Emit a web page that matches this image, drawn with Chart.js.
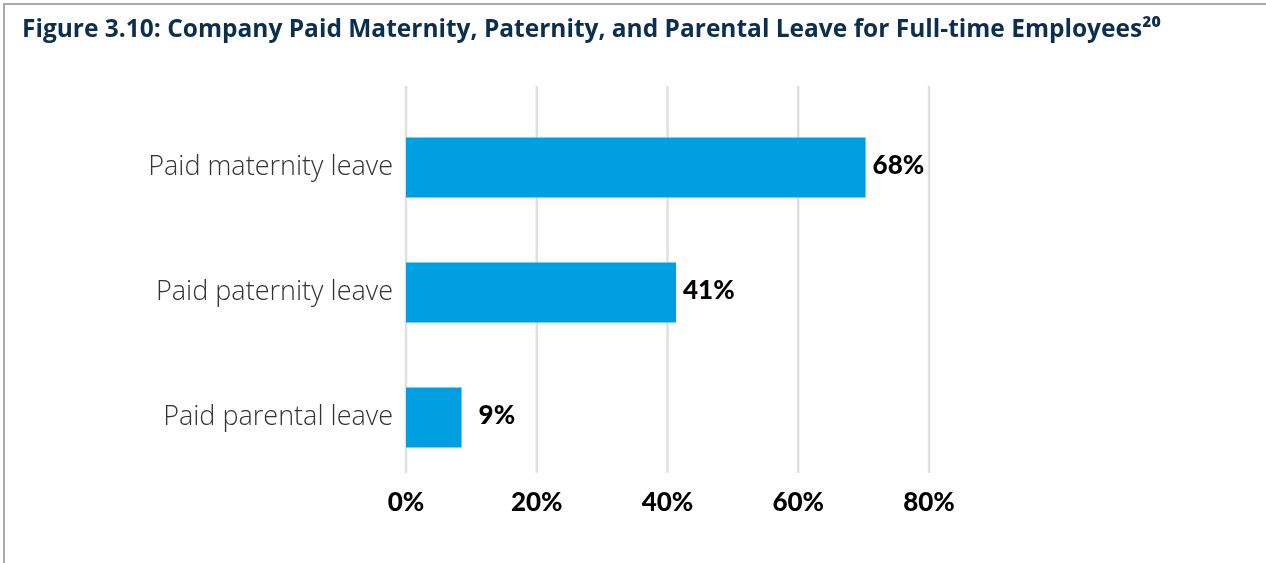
<!DOCTYPE html>
<html>
<head>
<meta charset="utf-8">
<script src="https://cdn.jsdelivr.net/npm/chart.js@4"></script>
<style>
  html, body { margin: 0; padding: 0; background: #fff; overflow: hidden; }
  #wrap { position: relative; width: 1266px; height: 563px; }
  #frame {
    position: absolute; left: 3px; top: 3px; right: -10px; bottom: -10px;
    border-top: 2px solid #a9a9a9; border-left: 2px solid #a9a9a9;
    pointer-events: none;
  }
</style>
</head>
<body>
<div id="wrap">
  <canvas id="chart" width="1266" height="563"></canvas>
  <div id="frame"></div>
</div>
<script>
// data
const categories = ["Paid maternity leave", "Paid paternity leave", "Paid parental leave"];
const barLengths = [70.3, 41.3, 8.5];        // where the bars actually end
const valueLabels = ["68%", "41%", "9%"];    // printed labels
const xTicks = [0, 20, 40, 60, 80];

const titleText = "Figure 3.10: Company Paid Maternity, Paternity, and Parental Leave for Full-time Employees\u00B2\u2070";

// title drawn by hand so it can sit 22px in from the left
const titlePlugin = {
  id: "figTitle",
  afterDraw(chart) {
    const { ctx } = chart;
    ctx.save();
    ctx.font = "bold 24.5px 'Open Sans'";
    ctx.fillStyle = "#0c2f4f";
    ctx.textAlign = "left";
    ctx.textBaseline = "middle";
    ctx.fillText(titleText, 22, 30);
    ctx.restore();
  },
};

// vertical gridlines, drawn a bit higher than the bar band like the original
const gridPlugin = {
  id: "grid",
  beforeDatasetsDraw(chart) {
    const { ctx, chartArea, scales } = chart;
    ctx.save();
    ctx.strokeStyle = "#e0e0e0";
    ctx.lineWidth = 2.5;
    xTicks.forEach((t) => {
      const x = scales.x.getPixelForValue(t);
      ctx.beginPath();
      ctx.moveTo(x, chartArea.top - 19);
      ctx.lineTo(x, chartArea.bottom - 7);
      ctx.stroke();
    });
    ctx.restore();
  },
};

const labelPlugin = {
  id: "valueLabels",
  afterDatasetsDraw(chart) {
    const { ctx } = chart;
    const meta = chart.getDatasetMeta(0);
    ctx.save();
    ctx.font = "900 26px Lato";
    ctx.fillStyle = "#000";
    ctx.textAlign = "left";
    ctx.textBaseline = "middle";
    meta.data.forEach((bar, i) => {
      // the short bar's label sits further out in the original
      const gap = bar.x - bar.base < 80 ? 17 : 7;
      ctx.fillText(valueLabels[i], bar.x + gap, bar.y - 2);
    });
    ctx.restore();
  },
};

new Chart(document.getElementById("chart"), {
  type: "bar",
  data: {
    labels: categories,
    datasets: [
      {
        data: barLengths,
        backgroundColor: "#009fe1",
        borderWidth: 0,
        categoryPercentage: 1,
        barPercentage: 0.48,
      },
    ],
  },
  options: {
    indexAxis: "y",
    responsive: false,
    animation: false,
    layout: { padding: { left: 0, right: 337, top: 105, bottom: 0 } },
    plugins: {
      legend: { display: false },
      tooltip: { enabled: false },
      title: { display: false },
    },
    scales: {
      x: {
        min: 0,
        max: 80,
        afterBuildTicks(scale) {
          scale.ticks = xTicks.map((v) => ({ value: v }));
        },
        afterFit(scale) {
          scale.height = 83;
        },
        grid: { display: false, drawTicks: false },
        border: { display: false },
        ticks: {
          padding: 7,
          color: "#000",
          font: { family: "Lato", size: 26, weight: "900" },
          callback: (v) => v + "%",
        },
      },
      y: {
        afterFit(scale) {
          scale.width = 406;
        },
        grid: { display: false, drawTicks: false },
        border: { display: false },
        ticks: {
          padding: 13,
          color: "#333",
          font: { family: "Open Sans", size: 27, weight: "300" },
        },
      },
    },
  },
  plugins: [gridPlugin, labelPlugin, titlePlugin],
});
</script>
</body>
</html>
